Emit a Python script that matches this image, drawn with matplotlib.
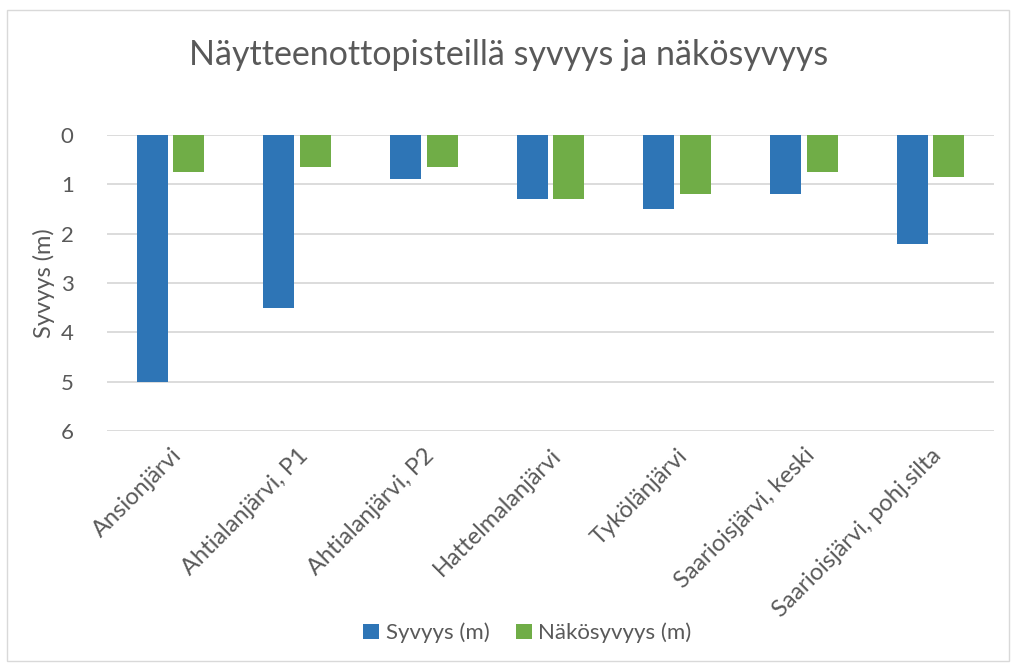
import matplotlib
matplotlib.use("Agg")
import matplotlib.pyplot as plt
import numpy as np
from matplotlib.patches import Rectangle

plt.rcParams["font.family"] = ["Lato", "DejaVu Sans"]

categories = ["Ansionjärvi", "Ahtialanjärvi, P1", "Ahtialanjärvi, P2", "Hattelmalanjärvi",
              "Tykölänjärvi", "Saarioisjärvi, keski", "Saarioisjärvi, pohj.silta"]
syvyys = [5.0, 3.5, 0.9, 1.3, 1.5, 1.2, 2.2]
nakosyvyys = [0.75, 0.65, 0.65, 1.3, 1.2, 0.75, 0.85]

BLUE = "#2E75B6"
GREEN = "#70AD47"
TEXT = "#595959"

fig = plt.figure(figsize=(10.17, 6.66), dpi=100)
ax = fig.add_axes([107 / 1017, 1 - 431 / 666, (994 - 107) / 1017, (431 - 135) / 666])

x = np.arange(len(categories))
w = 0.245
ax.bar(x - 0.144, syvyys, width=w, color=BLUE, label="Syvyys (m)", zorder=3)
ax.bar(x + 0.144, nakosyvyys, width=w, color=GREEN, label="Näkösyvyys (m)", zorder=3)

ax.set_ylim(6, 0)
ax.set_xlim(-0.5, len(categories) - 0.5)
ax.set_yticks(range(0, 7))
ax.yaxis.grid(True, color="#D9D9D9", linewidth=1.3, zorder=0)
for s in ax.spines.values():
    s.set_visible(False)
ax.tick_params(axis="both", length=0, colors=TEXT)
ax.tick_params(axis="y", pad=24, labelsize=16)
ax.set_xticks(x)
ax.set_xticklabels(categories, rotation=45, ha="right", rotation_mode="anchor")
ax.tick_params(axis="x", pad=10, labelsize=17)
ax.set_ylabel("Syvyys (m)", color=TEXT, fontsize=17, labelpad=4)

fig.text(0.5, 1 - 55 / 666, "Näytteenottopisteillä syvyys ja näkösyvyys",
         ha="center", va="center", fontsize=24.5, color=TEXT)

fig.legend(loc="center", bbox_to_anchor=(0.5 + 19 / 1017, 1 - 633 / 666), ncol=2, frameon=False,
           fontsize=16, labelcolor=TEXT, handlelength=0.7, handleheight=0.7,
           handletextpad=0.3, columnspacing=1.2)

fig.patches.append(Rectangle((7 / 1017, 1 - 661 / 666), 1002 / 1017, 651 / 666,
                             transform=fig.transFigure, fill=False,
                             edgecolor="#D9D9D9", linewidth=1))

fig.savefig("out.png", dpi=100)
